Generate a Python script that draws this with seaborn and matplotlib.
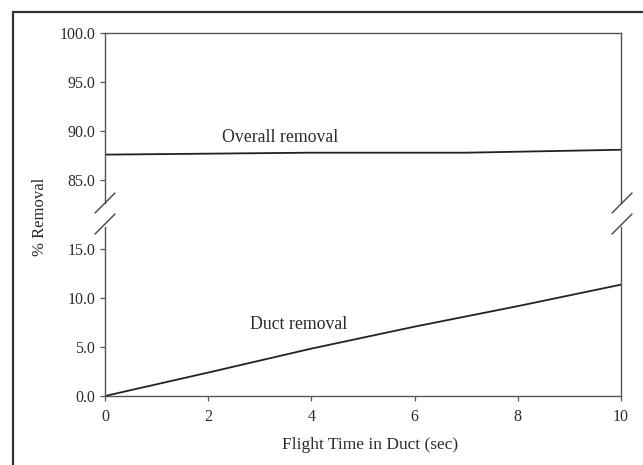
import seaborn as sns
import pandas as pd
import matplotlib.pyplot as plt
from matplotlib.lines import Line2D
from matplotlib.patches import Rectangle

# values
flight_time = [0, 2, 4, 6, 7, 8, 10]
overall_removal = [87.55, 87.65, 87.75, 87.75, 87.75, 87.85, 88.05]
duct_removal = [0.0, 2.4, 4.85, 7.1, 8.15, 9.2, 11.4]

upper_ticks = [85.0, 90.0, 95.0, 100.0]
lower_ticks = [0.0, 5.0, 10.0, 15.0]
x_ticks = [0, 2, 4, 6, 8, 10]

overall = pd.DataFrame({'time': flight_time, 'removal': overall_removal})
duct = pd.DataFrame({'time': flight_time, 'removal': duct_removal})

sns.set_theme(style='ticks')
plt.rcParams['font.family'] = ['Liberation Serif', 'DejaVu Serif']
ink = '#2b2b2b'
plt.rcParams['text.color'] = ink
plt.rcParams['axes.edgecolor'] = '#555555'
plt.rcParams['xtick.color'] = '#555555'
plt.rcParams['ytick.color'] = '#555555'
plt.rcParams['xtick.labelcolor'] = ink
plt.rcParams['ytick.labelcolor'] = ink

W, H = 643, 465
fig = plt.figure(figsize=(6.43, 4.65), dpi=100)

left = 105 / W
width = (621 - 105) / W
ax_top = fig.add_axes([left, 1 - 203 / H, width, (203 - 33) / H])
ax_bot = fig.add_axes([left, 1 - 396 / H, width, (396 - 227) / H])

sns.lineplot(data=overall, x='time', y='removal', ax=ax_top, color='#222222', linewidth=1.3)
sns.lineplot(data=duct, x='time', y='removal', ax=ax_bot, color='#222222', linewidth=1.3)

ax_top.set_ylim(82.6, 100)
ax_bot.set_ylim(0, 17.3)
for ax in (ax_top, ax_bot):
    ax.set_xlim(0, 10)
    ax.set_xlabel('')
    ax.set_ylabel('')
    for s in ax.spines.values():
        s.set_linewidth(1.0)
    ax.tick_params(labelsize=11.5, length=3.5, width=0.9)

ax_top.spines['bottom'].set_visible(False)
ax_top.set_xticks([])
ax_top.set_yticks(upper_ticks)
ax_top.set_yticklabels([f'{t:.1f}' for t in upper_ticks])

ax_bot.spines['top'].set_visible(False)
ax_bot.set_xticks(x_ticks)
ax_bot.set_xticklabels([str(t) for t in x_ticks])
ax_bot.set_yticks(lower_ticks)
ax_bot.set_yticklabels([f'{t:.1f}' for t in lower_ticks])
ax_bot.tick_params(axis='x', pad=6)

ax_top.text(3.4, 89.3, 'Overall removal', ha='center', va='center', fontsize=12.8)
ax_bot.text(3.75, 7.35, 'Duct removal', ha='center', va='center', fontsize=12.8)

fig.text(40 / W, 1 - 217 / H, '% Removal', rotation=90, ha='center', va='center', fontsize=12)
fig.text(370 / W, 1 - 445 / H, 'Flight Time in Duct (sec)', ha='center', va='center', fontsize=12.5)

# break marks on the axis
for x0 in (95, 612):
    for y0 in (213, 234):
        fig.add_artist(Line2D([x0 / W, (x0 + 20) / W], [1 - y0 / H, 1 - (y0 - 20) / H],
                              color='#444444', linewidth=1.0))

# outer frame of the scanned figure
fig.add_artist(Rectangle((13 / W, -0.1), 1.2, 1 - 12 / H + 0.1, transform=fig.transFigure,
                         fill=False, edgecolor='#333333', linewidth=1.6))

fig.savefig('out.png', dpi=100)
